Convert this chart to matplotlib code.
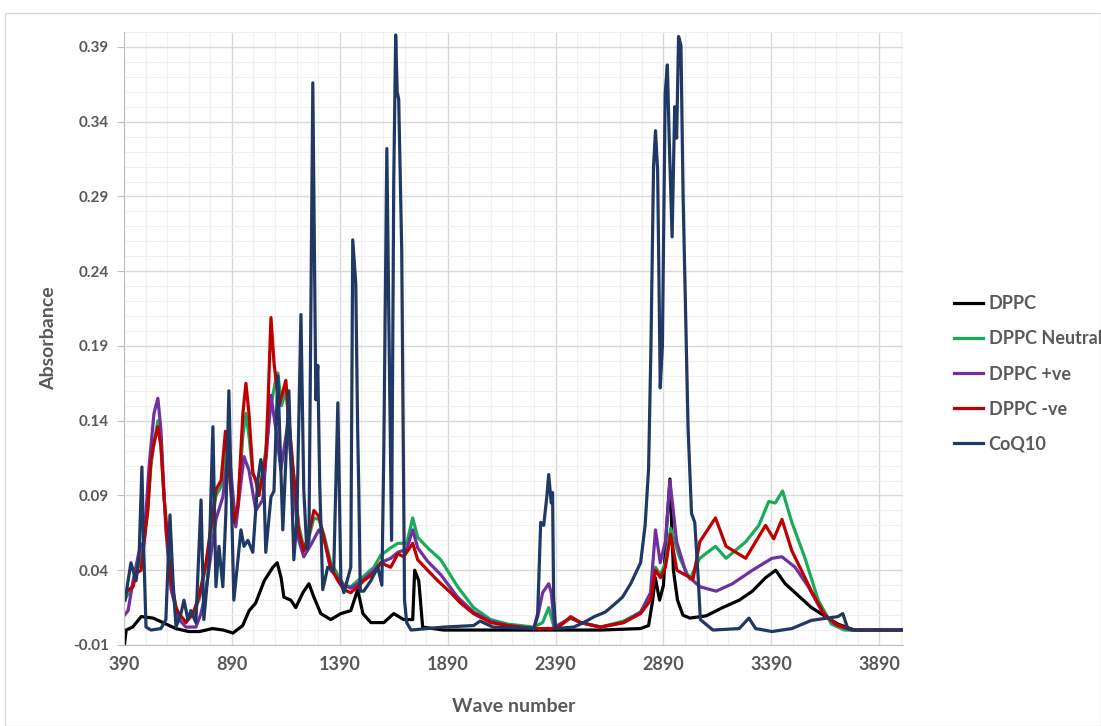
import numpy as np
import matplotlib.pyplot as plt
from matplotlib.patches import Rectangle
from matplotlib.ticker import FixedLocator

plt.rcParams['font.family'] = ['Lato', 'DejaVu Sans']

# DPPC (black)
dppcX = [392, 400, 430, 470, 525, 570, 630, 690, 740, 800, 850, 895, 940, 970, 1000,
         1040, 1080, 1100, 1118, 1131, 1163, 1186, 1219, 1247, 1270, 1302, 1348, 1395,
         1441, 1473, 1497, 1534, 1594, 1640, 1686, 1728, 1737, 1756, 1774, 1870, 2000,
         2300, 2600, 2784, 2821, 2840, 2852, 2872, 2890, 2905, 2920, 2936, 2955, 2980,
         3012, 3088, 3164, 3241, 3302, 3363, 3410, 3454, 3515, 3576, 3637, 3698, 3774, 4000]
dppcY = [-0.01, 0.0, 0.002, 0.009, 0.008, 0.005, 0.001, -0.001, -0.001, 0.001, 0.0, -0.002,
         0.003, 0.013, 0.018, 0.033, 0.042, 0.045, 0.035, 0.022, 0.020, 0.015, 0.025, 0.031,
         0.022, 0.011, 0.007, 0.011, 0.013, 0.027, 0.011, 0.005, 0.005, 0.011, 0.007, 0.007,
         0.040, 0.033, 0.002, 0.0, 0.0, 0.0, 0.0, 0.001, 0.003, 0.020, 0.035, 0.020,
         0.030, 0.070, 0.101, 0.040, 0.020, 0.010, 0.008, 0.0095, 0.015, 0.020, 0.026, 0.035,
         0.040, 0.031, 0.023, 0.015, 0.0095, 0.004, 0.0, 0.0]

# DPPC Neutral (green)
neutralX = [392, 432, 446, 469, 500, 515, 529, 547, 561, 575, 594, 608, 631, 645, 677, 709,
            737, 770, 793, 816, 848, 870, 899, 918, 941, 955, 969, 987, 1001, 1015, 1047,
            1071, 1090, 1103, 1120, 1140, 1154, 1172, 1186, 1200, 1223, 1247, 1270, 1293,
            1316, 1348, 1381, 1409, 1441, 1473, 1501, 1548, 1580, 1626, 1659, 1700, 1728,
            1751, 1797, 1858, 1936, 2010, 2089, 2168, 2288, 2330, 2358, 2381, 2400, 2460,
            2506, 2599, 2705, 2784, 2830, 2853, 2876, 2899, 2923, 2940, 2966, 3012, 3058,
            3131, 3180, 3271, 3332, 3378, 3408, 3442, 3485, 3546, 3607, 3668, 3729, 4000]
neutralY = [0.02, 0.03, 0.04, 0.045, 0.08, 0.11, 0.125, 0.14, 0.125, 0.09, 0.056, 0.033,
            0.015, 0.01, 0.006, 0.01, 0.02, 0.043, 0.065, 0.09, 0.098, 0.125, 0.075, 0.085,
            0.13, 0.145, 0.13, 0.105, 0.10, 0.09, 0.12, 0.15, 0.165, 0.172, 0.15, 0.16, 0.14,
            0.11, 0.09, 0.07, 0.055, 0.062, 0.075, 0.074, 0.064, 0.045, 0.037, 0.03, 0.029,
            0.033, 0.036, 0.042, 0.05, 0.055, 0.058, 0.058, 0.075, 0.062, 0.055, 0.047, 0.029,
            0.015, 0.007, 0.004, 0.002, 0.005, 0.015, 0.003, 0.002, 0.008, 0.005, 0.002, 0.006,
            0.012, 0.022, 0.042, 0.037, 0.045, 0.068, 0.06, 0.048, 0.034, 0.048, 0.056, 0.048,
            0.059, 0.07, 0.086, 0.085, 0.093, 0.072, 0.048, 0.02, 0.004, 0.0, 0.0]

# DPPC +ve (purple)
posX = [392, 409, 432, 459, 483, 506, 529, 547, 561, 584, 608, 645, 677, 723, 747, 770, 816,
        848, 876, 908, 946, 969, 1001, 1033, 1071, 1094, 1117, 1149, 1172, 1200, 1223, 1256,
        1293, 1316, 1348, 1381, 1409, 1441, 1473, 1501, 1548, 1580, 1626, 1659, 1700, 1728,
        1751, 1797, 1858, 1936, 2010, 2089, 2168, 2288, 2307, 2330, 2358, 2370, 2385, 2460,
        2506, 2599, 2705, 2784, 2830, 2853, 2875, 2900, 2920, 2951, 2997, 3058, 3134, 3210,
        3302, 3393, 3439, 3500, 3561, 3622, 3683, 3759, 4000]
posY = [0.01, 0.013, 0.033, 0.052, 0.06, 0.109, 0.145, 0.155, 0.134, 0.067, 0.027, 0.007,
        0.002, 0.002, 0.011, 0.027, 0.074, 0.089, 0.122, 0.069, 0.116, 0.107, 0.08, 0.087,
        0.157, 0.134, 0.107, 0.138, 0.10, 0.06, 0.049, 0.057, 0.067, 0.062, 0.04, 0.035, 0.03,
        0.028, 0.031, 0.034, 0.04, 0.045, 0.048, 0.052, 0.054, 0.067, 0.055, 0.046, 0.037,
        0.022, 0.012, 0.006, 0.003, 0.001, 0.009, 0.025, 0.031, 0.025, 0.002, 0.008, 0.005,
        0.002, 0.005, 0.012, 0.025, 0.067, 0.045, 0.06, 0.10, 0.059, 0.037, 0.029, 0.026,
        0.031, 0.04, 0.048, 0.049, 0.042, 0.029, 0.013, 0.004, 0.0, 0.0]

# DPPC -ve (red)
negX = [392, 432, 446, 469, 500, 515, 529, 547, 561, 575, 594, 608, 631, 645, 677, 709, 737,
        770, 793, 816, 840, 860, 899, 918, 941, 955, 969, 987, 1001, 1015, 1047, 1057, 1071,
        1085, 1108, 1140, 1154, 1172, 1186, 1200, 1223, 1247, 1270, 1293, 1316, 1348, 1381,
        1409, 1441, 1473, 1501, 1548, 1580, 1626, 1659, 1686, 1728, 1751, 1797, 1844, 1904,
        1950, 2010, 2089, 2168, 2288, 2367, 2400, 2460, 2506, 2599, 2705, 2784, 2830, 2853,
        2876, 2899, 2923, 2952, 3027, 3058, 3131, 3180, 3271, 3363, 3401, 3439, 3485, 3576,
        3637, 3698, 3774, 4000]
negY = [0.025, 0.029, 0.038, 0.040, 0.08, 0.114, 0.125, 0.136, 0.123, 0.09, 0.056, 0.033,
        0.015, 0.011, 0.005, 0.011, 0.022, 0.045, 0.069, 0.094, 0.10, 0.133, 0.072, 0.083,
        0.145, 0.165, 0.145, 0.105, 0.10, 0.09, 0.116, 0.15, 0.209, 0.179, 0.15, 0.167, 0.14,
        0.11, 0.09, 0.066, 0.053, 0.064, 0.08, 0.076, 0.062, 0.042, 0.033, 0.027, 0.025,
        0.029, 0.033, 0.038, 0.045, 0.042, 0.051, 0.049, 0.058, 0.047, 0.040, 0.033, 0.025,
        0.018, 0.011, 0.005, 0.003, 0.001, 0.001, 0.0015, 0.009, 0.005, 0.002, 0.005, 0.011,
        0.020, 0.040, 0.035, 0.042, 0.064, 0.040, 0.034, 0.059, 0.075, 0.056, 0.048, 0.070,
        0.061, 0.074, 0.053, 0.026, 0.010, 0.003, 0.0, 0.0]

# CoQ10 (navy)
coqX = [395, 422, 446, 460, 473, 480, 492, 515, 561, 584, 603, 617, 631, 654, 668, 686, 700,
        723, 747, 760, 784, 802, 816, 830, 848, 862, 876, 899, 932, 946, 964, 987, 1010, 1024,
        1038, 1047, 1071, 1085, 1103, 1126, 1154, 1177, 1191, 1210, 1223, 1237, 1247, 1265,
        1279, 1288, 1297, 1311, 1334, 1362, 1381, 1395, 1409, 1441, 1450, 1464, 1473, 1478,
        1485, 1501, 1534, 1566, 1585, 1594, 1608, 1618, 1630, 1640, 1649, 1656, 1663, 1677,
        1690, 1700, 1720, 1872, 2010, 2040, 2100, 2290, 2307, 2321, 2335, 2350, 2358, 2370,
        2376, 2381, 2390, 2474, 2520, 2570, 2620, 2661, 2700, 2738, 2784, 2805, 2821, 2832,
        2844, 2853, 2863, 2875, 2885, 2898, 2908, 2917, 2930, 2942, 2951, 2960, 2971, 2981,
        2994, 3004, 3020, 3035, 3050, 3061, 3119, 3241, 3286, 3317, 3393, 3485, 3576, 3698,
        3721, 3744, 3774, 4000]
coqY = [0.02, 0.045, 0.033, 0.05, 0.109, 0.06, 0.002, 0.0, 0.001, 0.007, 0.077, 0.033, 0.002,
        0.011, 0.02, 0.007, 0.013, 0.005, 0.087, 0.007, 0.045, 0.136, 0.029, 0.056, 0.029,
        0.078, 0.16, 0.02, 0.067, 0.056, 0.060, 0.052, 0.100, 0.114, 0.1, 0.052, 0.089, 0.093,
        0.17, 0.067, 0.16, 0.047, 0.074, 0.211, 0.094, 0.054, 0.06, 0.366, 0.154, 0.177,
        0.098, 0.027, 0.042, 0.04, 0.152, 0.033, 0.025, 0.042, 0.261, 0.232, 0.132, 0.094,
        0.026, 0.026, 0.033, 0.042, 0.03, 0.12, 0.322, 0.2, 0.06, 0.3, 0.398, 0.36, 0.355,
        0.254, 0.02, 0.005, 0.0, 0.002, 0.003, 0.006, 0.002, 0.001, 0.011, 0.072, 0.07, 0.09,
        0.104, 0.085, 0.092, 0.022, 0.001, 0.002, 0.005, 0.009, 0.012, 0.017, 0.022, 0.031,
        0.045, 0.07, 0.108, 0.19, 0.31, 0.334, 0.307, 0.162, 0.19, 0.359, 0.378, 0.326, 0.263,
        0.35, 0.329, 0.397, 0.391, 0.29, 0.203, 0.135, 0.078, 0.072, 0.037, 0.007, 0.0, 0.001,
        0.008, 0.001, -0.001, 0.001, 0.0065, 0.009, 0.011, 0.001, 0.0, 0.0]

series = [
    ('DPPC', dppcX, dppcY, '#000000'),
    ('DPPC Neutral', neutralX, neutralY, '#1aab58'),
    ('DPPC +ve', posX, posY, '#7030a0'),
    ('DPPC -ve', negX, negY, '#c00000'),
    ('CoQ10', coqX, coqY, '#203864'),
]

xTicks = [390, 890, 1390, 1890, 2390, 2890, 3390, 3890]
yTicks = [-0.01, 0.04, 0.09, 0.14, 0.19, 0.24, 0.29, 0.34, 0.39]

gray = '#595959'

fig = plt.figure(figsize=(11.01, 7.26), dpi=100)
fig.patches.append(Rectangle((5 / 1101, 0), 1 - 5 / 1101, 1 - 13 / 726,
                             transform=fig.transFigure, fill=False,
                             edgecolor='#d9d9d9', linewidth=1))
ax = fig.add_axes([124 / 1101, 1 - 645 / 726, 779 / 1101, 613 / 726])

for name, xs, ys, color in series:
    ax.plot(xs, ys, color=color, linewidth=2.3, label=name, solid_joinstyle='round')

ax.set_xlim(390, 4000)
ax.set_ylim(-0.01, 0.40)
ax.xaxis.set_major_locator(FixedLocator(xTicks))
ax.xaxis.set_minor_locator(FixedLocator(np.arange(390, 4001, 100)))
ax.yaxis.set_major_locator(FixedLocator(yTicks))
ax.yaxis.set_minor_locator(FixedLocator(np.arange(-0.01, 0.401, 0.01)))
ax.set_xticklabels([str(t) for t in xTicks])
ax.set_yticklabels(['%.2f' % t for t in yTicks])

ax.grid(which='major', color='#d9d9d9', linewidth=1)
ax.grid(which='minor', color='#f0f0f0', linewidth=0.8)
ax.set_axisbelow(True)

for side in ['top', 'right']:
    ax.spines[side].set_visible(False)
ax.spines['left'].set_color('#bfbfbf')
ax.spines['bottom'].set_color('#bfbfbf')

ax.tick_params(axis='x', which='both', length=0, labelsize=13, labelcolor=gray, pad=8)
ax.tick_params(axis='y', which='major', length=5, color='#bfbfbf', labelsize=11,
               labelcolor=gray, pad=6)
ax.tick_params(axis='y', which='minor', length=0)
for lab in ax.get_xticklabels() + ax.get_yticklabels():
    lab.set_fontweight('bold')

ax.set_xlabel('Wave number', fontsize=14, fontweight='bold', color=gray, labelpad=18)
ax.set_ylabel('Absorbance', fontsize=14, fontweight='bold', color=gray, labelpad=11)

leg = fig.legend(loc='center left', bbox_to_anchor=(938 / 1101, 1 - 374 / 726),
                 frameon=False, handlelength=1.6, handletextpad=0.3,
                 labelspacing=1.0, prop={'weight': 'bold', 'size': 13})
for t in leg.get_texts():
    t.set_color(gray)

fig.savefig('out.png', dpi=100)
